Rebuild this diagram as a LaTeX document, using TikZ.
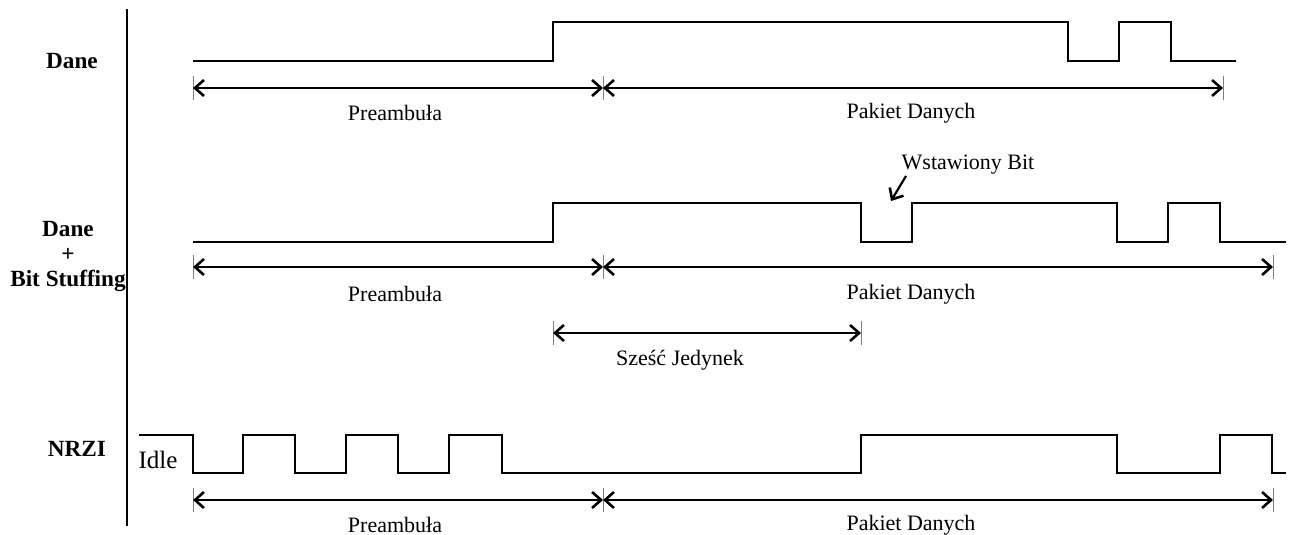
\documentclass[tikz,border=0pt]{standalone}
\usepackage{fontspec}
\setmainfont{Liberation Serif}
\usetikzlibrary{arrows.meta}
\tikzset{
sig/.style={line width=1.4pt, line join=miter},
span/.style={line width=1.1pt, {Straight Barb[length=4.5pt,width=8pt,line width=1.3pt]}-{Straight Barb[length=4.5pt,width=8pt,line width=1.3pt]}},
pointer/.style={line width=1.1pt, -{Straight Barb[length=4.5pt,width=8pt,line width=1.3pt]}},
tickmark/.style={line width=0.4pt, gray},
txt/.style={font=\fontsize{11}{13}\selectfont, inner sep=0pt},
rowname/.style={font=\fontsize{11.6}{12.5}\selectfont\bfseries, inner sep=0pt, align=center},
}
\begin{document}
\begin{tikzpicture}[x=0.5pt, y=-0.5pt]
\useasboundingbox (0,0) rectangle (1295,535);
\draw[line width=1.3pt] (127,9) -- (127,526);
\node[rowname] (dane) at (72,61){Dane};
\node[rowname] (stuff) at (68,256){Dane\\+\\Bit Stuffing};
\node[rowname] (nrzi) at (77,449){NRZI};
\node[txt, font=\fontsize{12.5}{14}\selectfont] (idle) at (158,460){Idle};
\draw[sig] (193,61) -- (553,61) -- (553,22) -- (1068,22) -- (1068,61) -- (1119,61) -- (1119,22) -- (1171,22) -- (1171,61) -- (1236,61);
\draw[sig] (193,242) -- (553,242) -- (553,203) -- (861,203) -- (861,242) -- (912,242) -- (912,203) -- (1117,203) -- (1117,242) -- (1168,242) -- (1168,203) -- (1220,203) -- (1220,242) -- (1286,242);
\draw[sig] (139,435) -- (193,435) -- (193,473) -- (243,473) -- (243,435) -- (295,435) -- (295,473) -- (346,473) -- (346,435) -- (398,435) -- (398,473) -- (449,473) -- (449,435) -- (502,435) -- (502,473) -- (861,473) -- (861,435) -- (1117,435) -- (1117,473) -- (1220,473) -- (1220,435) -- (1272,435) -- (1272,473) -- (1286,473);
\coordinate (a1) at (193,88);
\coordinate (b1) at (603,88);
\coordinate (c1) at (1223,88);
\coordinate (a2) at (193,267);
\coordinate (b2) at (603,267);
\coordinate (c2) at (1273,267);
\coordinate (s1) at (553,333);
\coordinate (s2) at (861,333);
\coordinate (a3) at (193,500);
\coordinate (b3) at (603,500);
\coordinate (c3) at (1273,500);
\draw[tickmark] (a1) ++(0,-12) -- ++(0,24);
\draw[tickmark] (b1) ++(0,-12) -- ++(0,24);
\draw[tickmark] (c1) ++(0,-12) -- ++(0,24);
\draw[tickmark] (a2) ++(0,-12) -- ++(0,24);
\draw[tickmark] (b2) ++(0,-12) -- ++(0,24);
\draw[tickmark] (c2) ++(0,-12) -- ++(0,24);
\draw[tickmark] (s1) ++(0,-12) -- ++(0,24);
\draw[tickmark] (s2) ++(0,-12) -- ++(0,24);
\draw[tickmark] (a3) ++(0,-12) -- ++(0,24);
\draw[tickmark] (b3) ++(0,-12) -- ++(0,24);
\draw[tickmark] (c3) ++(0,-12) -- ++(0,24);
\draw[span] (a1) -- (b1);
\draw[span] (b1) -- (c1);
\draw[span] (a2) -- (b2);
\draw[span] (b2) -- (c2);
\draw[span] (s1) -- (s2);
\draw[span] (a3) -- (b3);
\draw[span] (b3) -- (c3);
\node[txt] (pre1) at (395,113){Preambuła};
\node[txt] (pak1) at (911,113){Pakiet Danych};
\node[txt] (pre2) at (395,294){Preambuła};
\node[txt] (pak2) at (911,294){Pakiet Danych};
\node[txt] (six) at (680,360){Sześć Jedynek};
\node[txt] (pre3) at (395,525){Preambuła};
\node[txt] (pak3) at (911,525){Pakiet Danych};
\node[txt] (wbit) at (968,165){Wstawiony Bit};
\coordinate (wtail) at (906,176);
\coordinate (wtip) at (891,201);
\draw[pointer] (wtail) -- (wtip);
\end{tikzpicture}
\end{document}
